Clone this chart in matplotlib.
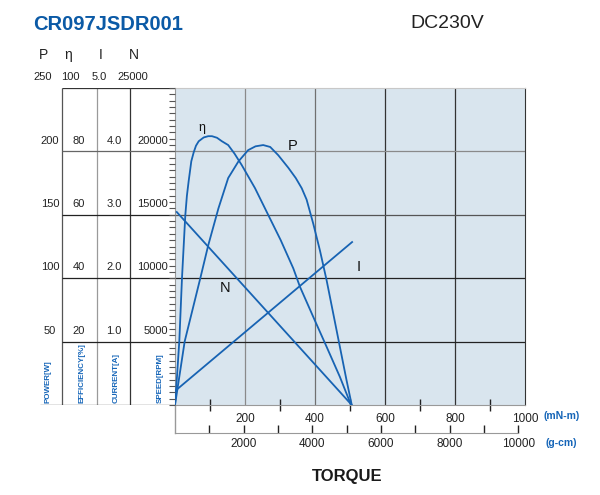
import matplotlib
matplotlib.use("Agg")
import matplotlib.pyplot as plt

# values, torque in mN-m
eff_torque = [0, 6, 12.3, 20, 29.4, 34, 39, 46.6, 53.4, 60, 67.7, 82, 95, 105.7, 120, 134,
              152, 170, 190.6, 228.6, 266.6, 302, 338, 357, 395, 433, 471, 503]
eff_values = [0, 9.5, 20.1, 40.1, 59.8, 66, 70.6, 76.9, 79.7, 81.8, 83.2, 84.4, 84.8, 84.8,
              84.3, 83.2, 82.0, 79.3, 75.7, 68.4, 59.9, 52.0, 43.1, 37.3, 27.8, 18.4, 8.9, 0]

pow_torque = [0, 27.7, 72.3, 95, 124, 152, 181, 209, 230, 252, 272, 295, 324, 345, 362,
              376, 395, 414, 433, 452, 471, 490, 505]
pow_values = [0, 50.2, 100, 126, 155, 179, 192, 201, 204, 205, 203.5, 197, 187, 179, 171,
              162, 143, 122, 98.6, 72.3, 46, 19.7, 0]

cur_torque = [0, 506]
cur_values = [0.22, 2.57]

spd_torque = [5, 505]
spd_values = [15220, 0]

pow_ticks = [50, 100, 150, 200]
eff_ticks = [20, 40, 60, 80]
cur_ticks = ["1.0", "2.0", "3.0", "4.0"]
spd_ticks = ["5000", "10000", "15000", "20000"]
head_ticks = ["250", "100", "5.0", "25000"]
head_names = ["P", "η", "I", "N"]
col_names = ["POWER[W]", "EFFICIENCY[%]", "CURRENT[A]", "SPEED[RPM]"]

mnm_ticks = [200, 400, 600, 800, 1000]
gcm_ticks = [2000, 4000, 6000, 8000, 10000]

blue = "#1763b3"
txtblue = "#1565b8"
plt.rcParams["font.family"] = ["Liberation Sans", "DejaVu Sans"]

fig = plt.figure(figsize=(6, 4.95), dpi=100)
W, H = 600.0, 495.0
ax = fig.add_axes([175 / W, 1 - 405 / H, 350 / W, 317 / H])
tab = fig.add_axes([40 / W, 1 - 405 / H, 135 / W, 317 / H])

# main plot
ax.set_facecolor("#d9e5ee")
ax.set_xlim(0, 1000)
ax.set_ylim(0, 250)
for x, c in [(200, "#8a8a8a"), (400, "#707070"), (600, "#333333"), (800, "#333333")]:
    ax.axvline(x, color=c, lw=0.9, zorder=1)
for y, c in [(200, "#8a8a8a"), (150, "#555555"), (100, "#222222"), (50, "#222222")]:
    ax.axhline(y, color=c, lw=0.9, zorder=1)
ax.spines["left"].set_color("#999999")
ax.spines["bottom"].set_color("#999999")
ax.spines["top"].set_color("#c8c8c8")
ax.spines["right"].set_color("#333333")
ax.set_yticks([])
ax.set_xticks(mnm_ticks)
ax.set_xticklabels([str(t) for t in mnm_ticks])
ax.set_xticks([100, 300, 500, 700, 900], minor=True)
ax.tick_params(axis="x", which="major", length=0, pad=6, labelsize=8.5, labelcolor="#222222")
ax.tick_params(axis="x", which="minor", direction="inout", length=8, width=1, color="#222222")
ax.plot([0, 0], [0, -0.0874], transform=ax.transAxes, clip_on=False, color="#999999", lw=1)

sec = ax.secondary_xaxis(-0.0874, functions=(lambda x: x * 10.197, lambda x: x / 10.197))
sec.set_xticks(gcm_ticks)
sec.set_xticklabels([str(t) for t in gcm_ticks])
sec.set_xticks([1000, 3000, 5000, 7000, 9000], minor=True)
sec.tick_params(which="both", direction="in", length=6, width=1, color="#222222")
sec.tick_params(which="major", pad=4, labelsize=8.5, labelcolor="#222222")
sec.spines["bottom"].set_color("#999999")
sec.spines["bottom"].set_bounds(0, 10000)

ax.text(1.105, -0.035, "(mN-m)", transform=ax.transAxes, ha="center", va="center",
        weight="bold", fontsize=7.5, color=txtblue)
ax.text(1.105, -0.12, "(g-cm)", transform=ax.transAxes, ha="center", va="center",
        weight="bold", fontsize=7.5, color=txtblue)

# curves on their own scales
ax.plot(pow_torque, pow_values, color=blue, lw=1.3, zorder=3, solid_joinstyle="round")
ax_eff = ax.twinx()
ax_eff.set_ylim(0, 100)
ax_eff.plot(eff_torque, eff_values, color=blue, lw=1.3, solid_joinstyle="round")
ax_cur = ax.twinx()
ax_cur.set_ylim(0, 5)
ax_cur.plot(cur_torque, cur_values, color=blue, lw=1.3)
ax_spd = ax.twinx()
ax_spd.set_ylim(0, 25000)
ax_spd.plot(spd_torque, spd_values, color=blue, lw=1.3)
for a in (ax_eff, ax_cur, ax_spd):
    for s in a.spines.values():
        s.set_visible(False)
    a.set_yticks([])
ax_spd.yaxis.tick_left()
ax_spd.set_yticks(range(0, 25001, 500))
ax_spd.set_yticklabels([])
ax_spd.tick_params(axis="y", direction="out", length=4, width=0.8, color="#555555")

ax.text(335, 204, "P", fontsize=10.5, ha="center", va="center", color="#111111")
ax_eff.text(77, 87.5, "η", fontsize=9, ha="center", va="center", color="#111111")
ax_cur.text(526, 2.18, "I", fontsize=10.5, ha="center", va="center", color="#111111")
ax_spd.text(143, 9200, "N", fontsize=10.5, ha="center", va="center", color="#111111")

# left table of scales
tab.set_xlim(40, 175)
tab.set_ylim(0, 250)
tab.axis("off")
tab.vlines(61.7, 0, 250, color="#555555", lw=0.9)
tab.vlines(96.7, 0, 250, color="#9a9a9a", lw=0.9)
tab.vlines(130, 0, 250, color="#333333", lw=0.9)
tab.hlines(250, 61.7, 175, color="#333333", lw=0.9)
tab.hlines(200, 61.7, 175, color="#666666", lw=0.9)
for y in [150, 100, 50]:
    tab.hlines(y, 61.7, 175, color="#222222", lw=0.9)
tab.hlines(0, 40, 175, color="#222222", lw=0.9)

off = 8.5
for i in range(4):
    y = pow_ticks[i] + off
    tab.text(50, y, str(pow_ticks[i]), ha="center", va="center", fontsize=8, color="#222222")
    tab.text(79, y, str(eff_ticks[i]), ha="center", va="center", fontsize=8, color="#222222")
    tab.text(114, y, cur_ticks[i], ha="center", va="center", fontsize=8, color="#222222")
    tab.text(168, y, spd_ticks[i], ha="right", va="center", fontsize=8, color="#222222")

for x, s in zip([43, 70, 99, 133], head_ticks):
    tab.text(x, 258.5, s, ha="center", va="center", fontsize=8, color="#222222", clip_on=False)
for x, s in zip([43, 68, 101, 134], head_names):
    tab.text(x, 276, s, ha="center", va="center", fontsize=10, color="#222222", clip_on=False)
for x, s in zip([48, 81.7, 116, 160], col_names):
    tab.text(x, 1.6, s, rotation=90, ha="center", va="bottom",
             weight="bold", fontsize=5.8, color=txtblue)

# titles
fig.text(33 / W, 1 - 24 / H, "CR097JSDR001", ha="left", va="center",
         weight="bold", fontsize=14.5, color="#0b5aa6")
fig.text(410 / W, 1 - 24 / H, "DC230V", ha="left", va="center",
         fontsize=14, color="#222222")
fig.text(347 / W, 1 - 477 / H, "TORQUE", ha="center", va="center", weight="bold",
         fontsize=12, color="#1a1a1a")

fig.savefig("out.png", dpi=100)
